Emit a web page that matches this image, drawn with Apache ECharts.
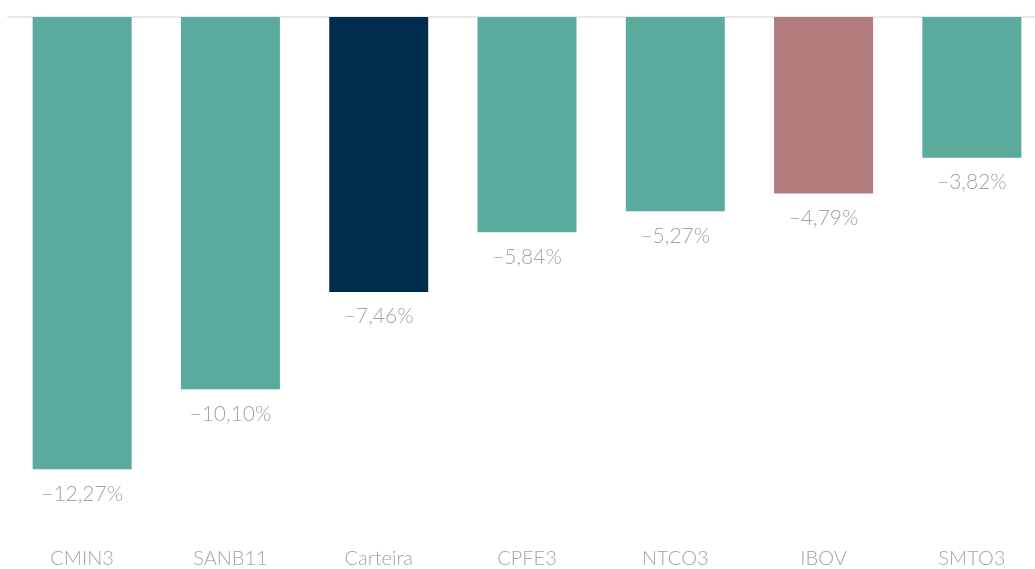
<!DOCTYPE html>
<html>
<head>
<meta charset="utf-8">
<script src="https://cdn.jsdelivr.net/npm/echarts@6/dist/echarts.min.js"></script>
<style>
  html, body { margin: 0; padding: 0; background: #fff; }
  #chart { width: 1035px; height: 569px; }
</style>
</head>
<body>
<div id="chart"></div>
<script>
var categories = ['CMIN3', 'SANB11', 'Carteira', 'CPFE3', 'NTCO3', 'IBOV', 'SMTO3'];
var values = [-12.27, -10.10, -7.46, -5.84, -5.27, -4.79, -3.82];
var barColors = ['#5aaa9e', '#5aaa9e', '#002d4b', '#5aaa9e', '#5aaa9e', '#b07b7a', '#5aaa9e'];

var chart = echarts.init(document.getElementById('chart'));
chart.setOption({
    animation: false,
    grid: {
        left: 8,
        top: 17,
        right: -11,
        bottom: 36,
        outerBoundsMode: 'none',
        containLabel: false
    },
    xAxis: [
        {
            type: 'category',
            data: categories,
            position: 'bottom',
            axisLine: { show: false, onZero: false },
            axisTick: { show: false },
            axisLabel: {
                margin: 16,
                color: '#a3a3a3',
                fontFamily: 'Lato',
                fontWeight: 300,
                fontSize: 20
            }
        },
        {
            type: 'category',
            data: categories,
            position: 'top',
            axisLine: { show: true, onZero: false, lineStyle: { color: '#e8e8e8', width: 2 } },
            axisTick: { show: false },
            axisLabel: { show: false }
        }
    ],
    yAxis: {
        type: 'value',
        min: -14,
        max: 0,
        show: false,
        splitLine: { show: false }
    },
    series: [{
        type: 'bar',
        barWidth: 99,
        data: values.map(function (v, i) {
            return { value: v, itemStyle: { color: barColors[i] } };
        }),
        label: {
            show: true,
            position: 'outside',
            distance: 14,
            color: '#a3a3a3',
            fontFamily: 'Lato',
            fontWeight: 300,
            fontSize: 21,
            formatter: function (p) {
                return '\u2013' + Math.abs(p.value).toFixed(2).replace('.', ',') + '%';
            }
        }
    }]
});
</script>
</body>
</html>
